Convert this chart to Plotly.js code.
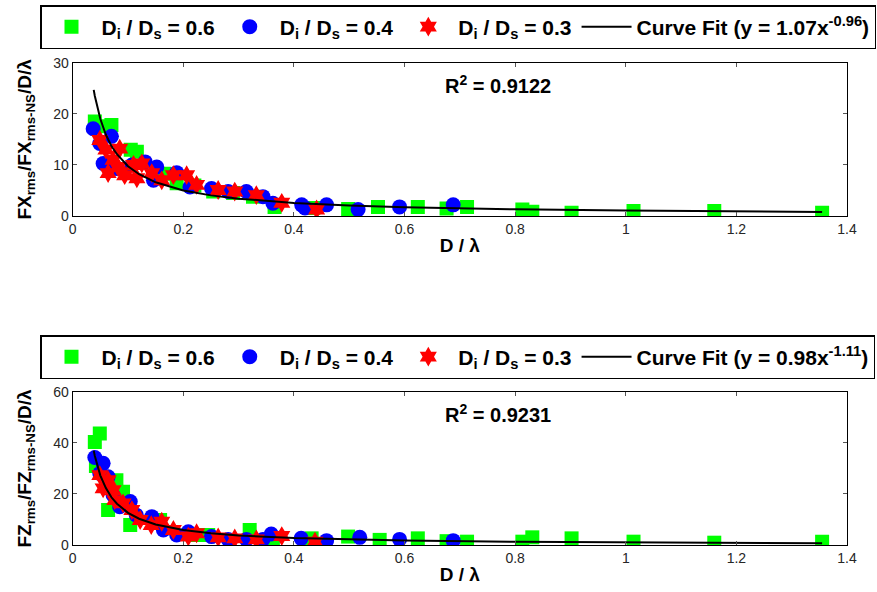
<!DOCTYPE html>
<html>
<head>
<meta charset="utf-8">
<script src="https://cdn.plot.ly/plotly-3.0.1.min.js"></script>
<style>html,body{margin:0;padding:0;background:#fff}#chart{width:877px;height:592px}</style>
</head>
<body>
<div id="chart"></div>
<script>
// ---- Top panel (FX) ----
const fxGreenX = [0.040,0.060,0.070,0.105,0.116,0.165,0.188,0.220,0.254,0.290,0.326,0.365,0.435,0.498,0.552,0.624,0.676,0.713,0.813,0.831,0.902,1.014,1.160,1.355];
const fxGreenY = [18.5,17.6,17.8,13.0,12.6,8.3,6.4,6.0,4.8,4.5,3.8,1.8,1.6,1.4,1.8,1.8,1.5,1.8,1.3,0.85,0.65,1.0,1.0,0.65];
const fxBlueX = [0.037,0.070,0.049,0.055,0.079,0.107,0.131,0.152,0.146,0.188,0.212,0.251,0.281,0.314,0.344,0.362,0.414,0.420,0.459,0.516,0.591,0.688];
const fxBlueY = [17.1,15.6,14.2,10.3,9.3,10.0,10.6,9.6,7.0,8.5,5.7,5.4,4.8,4.8,3.8,2.5,2.2,1.6,2.2,1.3,1.8,2.2];
const fxRedX = [0.049,0.060,0.085,0.073,0.064,0.082,0.094,0.110,0.125,0.116,0.143,0.161,0.182,0.206,0.224,0.263,0.293,0.332,0.378,0.441];
const fxRedY = [14.9,13.0,13.2,11.0,8.4,9.6,8.0,10.0,10.3,7.4,8.4,7.0,8.0,8.0,6.1,5.1,4.8,4.1,2.6,1.3];
const fxFitX = [0.038,0.04,0.05,0.06,0.07,0.08,0.10,0.12,0.15,0.20,0.25,0.30,0.40,0.50,0.60,0.80,1.00,1.20,1.355];
const fxFitY = [24.7,23.5,19.0,15.9,13.7,12.1,9.76,8.19,6.61,5.02,4.05,3.40,2.58,2.08,1.75,1.33,1.07,0.90,0.80];

// ---- Bottom panel (FZ) ----
const fzGreenX = [0.040,0.049,0.042,0.064,0.079,0.091,0.104,0.158,0.224,0.245,0.320,0.362,0.432,0.498,0.555,0.624,0.676,0.713,0.813,0.831,0.902,1.014,1.160,1.355];
const fzGreenY = [40.4,43.7,31.0,13.7,25.4,20.9,7.8,9.8,3.9,3.9,5.9,2.6,2.6,3.3,2.0,2.6,1.5,1.3,1.3,3.0,2.6,1.3,0.9,1.3];
const fzBlueX = [0.040,0.055,0.049,0.064,0.073,0.085,0.104,0.115,0.143,0.164,0.188,0.209,0.251,0.281,0.314,0.344,0.359,0.413,0.459,0.519,0.591,0.688];
const fzBlueY = [34.3,32.0,28.0,26.7,19.6,15.0,17.0,11.7,11.1,5.9,3.9,5.2,3.3,2.2,2.2,2.2,4.3,2.6,1.7,3.0,2.2,1.7];
const fzRedX = [0.049,0.064,0.055,0.073,0.076,0.091,0.107,0.122,0.142,0.161,0.182,0.209,0.224,0.263,0.293,0.332,0.378,0.438];
const fzRedY = [27.4,25.4,22.2,21.5,17.6,16.3,13.7,9.8,7.8,9.1,5.9,3.3,4.6,3.0,2.6,2.2,3.5,1.3];
const fzFitX = [0.038,0.04,0.05,0.06,0.07,0.08,0.10,0.12,0.15,0.20,0.25,0.30,0.40,0.50,0.60,0.80,1.00,1.20,1.355];
const fzFitY = [37.0,34.9,27.2,22.3,18.7,16.2,12.6,10.3,8.05,5.85,4.57,3.73,2.71,2.11,1.73,1.26,0.98,0.80,0.70];

const seriesNames = ['D<sub>i</sub> / D<sub>s</sub> = 0.6','D<sub>i</sub> / D<sub>s</sub> = 0.4','D<sub>i</sub> / D<sub>s</sub> = 0.3'];
const fitNames = ['Curve Fit (y = 1.07x<sup>-0.96</sup>)','Curve Fit (y = 0.98x<sup>-1.11</sup>)'];
const r2Labels = ['R<sup>2</sup> = 0.9122','R<sup>2</sup> = 0.9231'];
const xTickVals = [0,0.2,0.4,0.6,0.8,1.0,1.2,1.4];
const xTickText = ['0','0.2','0.4','0.6','0.8','1','1.2','1.4'];

const sans = 'Liberation Sans, Arial, sans-serif';
const GREEN = '#00ff00', BLUE = '#0000ff', RED = '#ff0000';

function pts(x, y, name, sym, color, size, xa, ya, leg) {
  return {x, y, name, type:'scatter', mode:'markers', xaxis:xa, yaxis:ya, legend:leg,
    marker:{symbol:sym, color, size, line:{width:0}}};
}
function fit(x, y, name, xa, ya, leg) {
  return {x, y, name, type:'scatter', mode:'lines', xaxis:xa, yaxis:ya, legend:leg,
    line:{color:'#000', width:2}};
}

const data = [
  pts(fxGreenX, fxGreenY, seriesNames[0], 'square', GREEN, 14, 'x', 'y', 'legend'),
  pts(fxBlueX, fxBlueY, seriesNames[1], 'circle', BLUE, 15, 'x', 'y', 'legend'),
  pts(fxRedX, fxRedY, seriesNames[2], 'hexagram', RED, 15, 'x', 'y', 'legend'),
  fit(fxFitX, fxFitY, fitNames[0], 'x', 'y', 'legend'),
  pts(fzGreenX, fzGreenY, seriesNames[0], 'square', GREEN, 14, 'x2', 'y2', 'legend2'),
  pts(fzBlueX, fzBlueY, seriesNames[1], 'circle', BLUE, 15, 'x2', 'y2', 'legend2'),
  pts(fzRedX, fzRedY, seriesNames[2], 'hexagram', RED, 15, 'x2', 'y2', 'legend2'),
  fit(fzFitX, fzFitY, fitNames[1], 'x2', 'y2', 'legend2')
];

const tickFont = {family: sans, size: 14, color: '#262626'};
function xaxis(anchor) {
  return {domain:[0.0829,0.9658], anchor, range:[0,1.4], tickvals:xTickVals, ticktext:xTickText,
    showline:true, linecolor:'#000', linewidth:1, mirror:'ticks', ticks:'inside', ticklen:4,
    tickcolor:'#555', showgrid:false, zeroline:false, tickfont:tickFont,
    title:{text:'D / λ', font:{family:sans, size:19, weight:'bold', color:'#000'}, standoff:2}};
}
function yaxis(anchor, domain, range, dtick, title) {
  return {domain, anchor, range, dtick, tick0:0,
    showline:true, linecolor:'#000', linewidth:1, mirror:'ticks', ticks:'inside', ticklen:4,
    tickcolor:'#555', showgrid:false, zeroline:false, tickfont:tickFont,
    title:{text:title, font:{family:sans, size:19, weight:'bold', color:'#000'}, standoff:16}};
}
const legendFont = {family: sans, size: 21, weight:'bold', color:'#000'};
function legend(y) {
  return {orientation:'h', x:40/877, xanchor:'left', y, yanchor:'top', bordercolor:'#000', borderwidth:1.5,
    bgcolor:'#fff', font:legendFont, itemsizing:'trace', itemwidth:50, tracegroupgap:0};
}

const layout = {
  width:877, height:592, margin:{l:0,r:0,t:0,b:0}, paper_bgcolor:'#fff', plot_bgcolor:'#fff',
  showlegend:true,
  xaxis: xaxis('y'),
  yaxis: yaxis('x', [0.635,0.894], [0,30], 10, 'FX<sub>rms</sub>/FX<sub>rms-NS</sub>/D/λ'),
  xaxis2: xaxis('y2'),
  yaxis2: yaxis('x2', [0.0794,0.338], [0,60], 20, 'FZ<sub>rms</sub>/FZ<sub>rms-NS</sub>/D/λ'),
  legend: legend(1 - 5/592),
  legend2: legend(1 - 335/592),
  annotations: [
    {xref:'paper', yref:'paper', x:443/877, y:1-84/592, xanchor:'left', yanchor:'middle', showarrow:false,
     text:r2Labels[0], font:{family:sans, size:20, weight:'bold', color:'#000'}},
    {xref:'paper', yref:'paper', x:443/877, y:1-413/592, xanchor:'left', yanchor:'middle', showarrow:false,
     text:r2Labels[1], font:{family:sans, size:20, weight:'bold', color:'#000'}}
  ]
};

Plotly.newPlot('chart', data, layout, {staticPlot:true, displayModeBar:false});
</script>
</body>
</html>
